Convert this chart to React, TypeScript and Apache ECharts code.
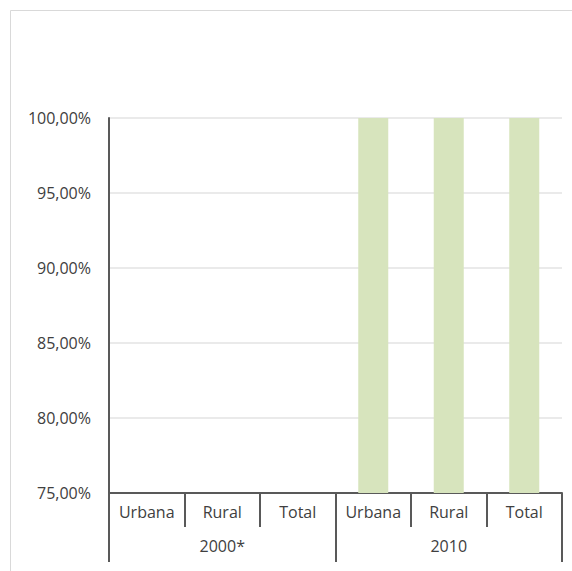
import React, { useEffect, useRef } from "react";
import * as echarts from "echarts";

const categories = ["Urbana", "Rural", "Total", "Urbana", "Rural", "Total"];
const groups = ["2000*", "2010"];
const values: (number | null)[] = [null, null, null, 1, 1, 1];
const yMin = 0.75;
const yMax = 1;
const yInterval = 0.05;

const fmt = (v: number) => (v * 100).toFixed(2).replace(".", ",") + "%";

export default function App() {
  const ref = useRef<HTMLDivElement>(null);
  useEffect(() => {
    const chart = echarts.init(ref.current!, null, { renderer: "svg" });
    const font = "'Open Sans', 'Noto Sans', sans-serif";
    chart.setOption({
      animation: false,
      backgroundColor: "#ffffff",
      graphic: [
        {
          type: "rect",
          shape: { x: 10.5, y: 10.5, width: 700, height: 700 },
          style: { fill: "none", stroke: "#d9d9d9", lineWidth: 1 },
          silent: true,
        },
      ],
      grid: { left: 109, top: 118, right: 10, bottom: 78 },
      xAxis: [
        {
          type: "category",
          data: categories,
          position: "bottom",
          axisLine: { show: true, lineStyle: { color: "#595959", width: 2 } },
          axisTick: {
            show: true,
            interval: 0,
            length: 34,
            lineStyle: { color: "#595959", width: 2 },
          },
          axisLabel: {
            interval: 0,
            margin: 11,
            color: "#404040",
            fontSize: 16,
            fontFamily: font,
          },
          splitLine: { show: false },
        },
        {
          type: "category",
          data: groups,
          position: "bottom",
          axisLine: { show: false },
          axisTick: {
            show: true,
            interval: 0,
            length: 69,
            lineStyle: { color: "#595959", width: 2 },
          },
          axisLabel: {
            interval: 0,
            margin: 45,
            color: "#404040",
            fontSize: 16,
            fontFamily: font,
          },
          splitLine: { show: false },
        },
      ],
      yAxis: {
        type: "value",
        min: yMin,
        max: yMax,
        interval: yInterval,
        axisLine: { show: true, lineStyle: { color: "#595959", width: 2 } },
        axisTick: { show: false },
        axisLabel: {
          margin: 18,
          color: "#404040",
          fontSize: 16,
          fontFamily: font,
          formatter: (v: number) => fmt(v),
        },
        splitLine: { show: true, lineStyle: { color: "#e3e3e3", width: 1.5 } },
      },
      series: [
        {
          type: "bar",
          xAxisIndex: 0,
          data: values,
          barWidth: 30,
          itemStyle: { color: "#d7e4bd" },
        },
      ],
    });
    return () => chart.dispose();
  }, []);
  return (
    <div
      ref={ref}
      style={{ position: "fixed", left: 0, top: 0, width: 572, height: 571 }}
    />
  );
}
